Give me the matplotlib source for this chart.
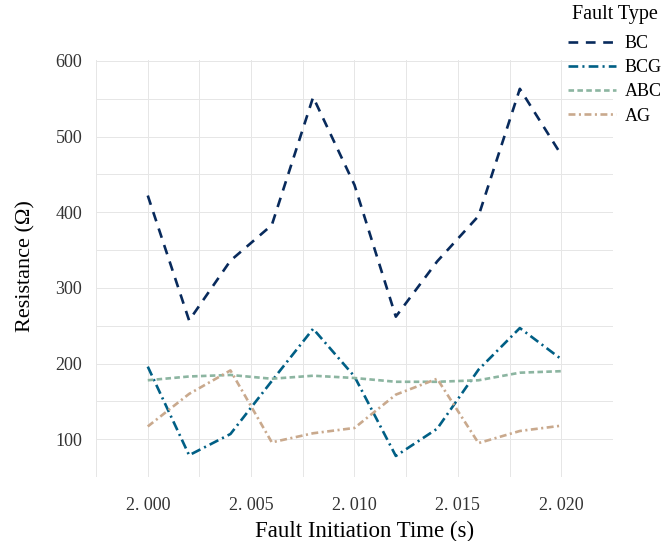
import matplotlib
matplotlib.use("Agg")
import matplotlib.pyplot as plt

plt.rcParams["font.family"] = ["Liberation Serif", "DejaVu Serif"]
plt.rcParams["lines.scale_dashes"] = False

# tiempos de inicio de falla (s)
tiempos = [2.000, 2.002, 2.004, 2.006, 2.008, 2.010, 2.012, 2.014, 2.016, 2.018, 2.020]

# resistencia estimada por tipo de falla (ohm)
r_bc = [422, 257, 336, 383, 552, 436, 262, 335, 395, 563, 476]
r_bcg = [196, 79, 107, 177, 246, 183, 78, 114, 192, 247, 206]
r_abc = [178, 183, 185, 180, 184, 181, 176, 176, 178, 188, 190]
r_ag = [117, 160, 191, 96, 108, 115, 159, 180, 95, 111, 118]

tipos = ["BC", "BCG", "ABC", "AG"]
marcas_x = [2.000, 2.005, 2.010, 2.015, 2.020]
etiquetas_x = ["2. 000", "2. 005", "2. 010", "2. 015", "2. 020"]
marcas_y = [100, 200, 300, 400, 500, 600]

colores = ["#082a5c", "#005f85", "#8cb5a1", "#c9a98d"]
guiones = [(0, (7, 5.5)), (0, (7, 3, 1.5, 3)), (0, (4, 2.4)), (0, (5, 2.5, 1.5, 2.5))]

fig = plt.figure(figsize=(6.72, 5.41), dpi=100)
ax = fig.add_axes([0.143, 0.118, 0.769, 0.771])

for serie, nombre, color, guion in zip([r_bc, r_bcg, r_abc, r_ag], tipos, colores, guiones):
    ax.plot(tiempos, serie, color=color, linestyle=guion, linewidth=1.9, label=nombre)

ax.set_xlim(1.9975, 2.0225)
ax.set_ylim(50, 601)
ax.set_xticks(marcas_x)
ax.set_xticklabels(etiquetas_x)
ax.set_xticks([1.9975 + 0.0025 * k for k in range(11)], minor=True)
ax.set_yticks(marcas_y)
ax.set_yticks([50 + 50 * k for k in range(11)], minor=True)
ax.tick_params(which="both", length=0, labelsize=13, colors="#333333")
ax.tick_params(axis="y", pad=10)
ax.tick_params(axis="x", pad=14)
ax.grid(True, which="both", color="#e6e6e6", linewidth=0.7)
ax.set_axisbelow(True)
for lado in ax.spines.values():
    lado.set_visible(False)

ax.set_xlabel("Fault Initiation Time (s)", fontsize=16.5)
ax.set_ylabel("Resistance (Ω)", fontsize=16)
ax.xaxis.set_label_coords(0.52, -0.105)
ax.yaxis.set_label_coords(-0.118, 0.505)

# leyenda fuera del panel, titulo aparte para controlar el espacio
fig.text(572 / 672, 1 - 14 / 541, "Fault Type", fontsize=14.5, va="center", ha="left")
ley = fig.legend(loc="upper left", bbox_to_anchor=(0.845, 1 - 35 / 541),
                 frameon=False, fontsize=13, handlelength=2.65,
                 labelspacing=0.4, handletextpad=0.5, borderpad=0, borderaxespad=0)

fig.savefig("out.png", dpi=100)
